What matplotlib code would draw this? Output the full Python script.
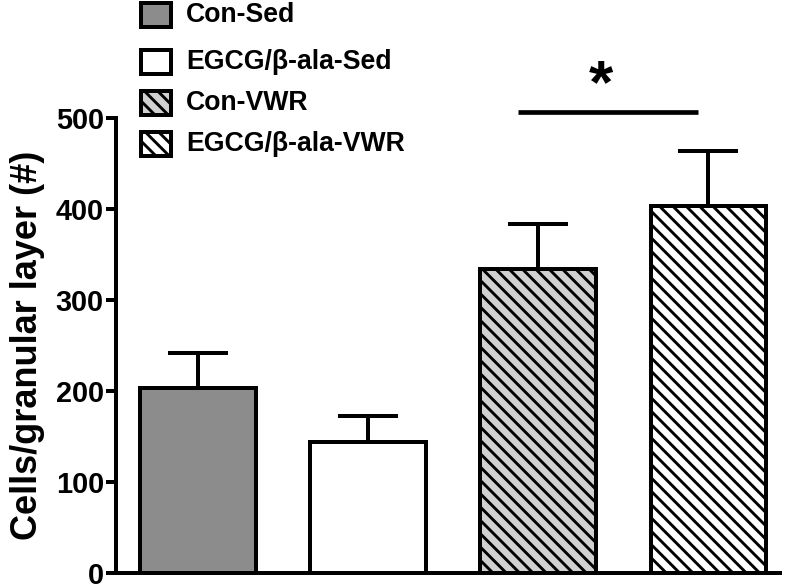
import matplotlib
matplotlib.use("Agg")
import matplotlib.pyplot as plt
from matplotlib.patches import Rectangle

plt.rcParams['font.family'] = ['Liberation Sans', 'DejaVu Sans']
plt.rcParams['font.weight'] = 'bold'

groups = ["Con-Sed", "EGCG/β-ala-Sed", "Con-VWR", "EGCG/β-ala-VWR"]
means = [203, 144, 334, 403]
sems = [39, 28, 50, 61]
colors = ["#8c8c8c", "#ffffff", "#d0d0d0", "#ffffff"]
hatches = ["", "", "\\\\", "\\\\"]
yticks = [0, 100, 200, 300, 400, 500]
ylabel = "Cells/granular layer (#)"
sig_span = (1.88, 2.94)
sig_y = 507
sig_text = "*"

plt.rcParams['hatch.linewidth'] = 2.6
fig = plt.figure(figsize=(10, 7.3375), dpi=80)
ax = fig.add_axes([0.145, 0.0239, 0.83, 0.775])

x = list(range(len(groups)))
ax.errorbar(x, means, yerr=[[0]*4, sems], fmt='none', ecolor='black',
            elinewidth=3.6, capsize=27, capthick=3.6, zorder=1)
ax.bar(x, means, width=0.68, color=colors, edgecolor='black', linewidth=3.6,
       hatch=hatches, zorder=2)

ax.set_xlim(-0.48, 3.42)
ax.set_ylim(0, 500)
ax.set_yticks(yticks)
ax.set_yticklabels([str(t) for t in yticks], fontsize=26, fontweight='bold')
ax.set_xticks([])
ax.set_ylabel(ylabel, fontsize=32.5, fontweight='bold', labelpad=10)
ax.tick_params(axis='y', direction='out', length=9, width=3.6, pad=2)
for s in ['top', 'right']:
    ax.spines[s].set_visible(False)
for s in ['left', 'bottom']:
    ax.spines[s].set_linewidth(3.6)

ax.plot(sig_span, [sig_y, sig_y], color='black', lw=4.2, clip_on=False,
        solid_capstyle='butt')
ax.text(2.37, 534, sig_text, ha='center', va='center',
        fontsize=56, fontweight='bold', clip_on=False)

# manual legend
W, H = 800, 587
rows_y = [15, 62, 103, 144]
for g, c, h, ry in zip(groups, colors, hatches, rows_y):
    bw, bh = 30, 23
    r = Rectangle(((141) / W, (H - ry - bh/2) / H), bw / W, bh / H,
                  transform=fig.transFigure, facecolor=c, edgecolor='black',
                  linewidth=3.6, hatch=h)
    fig.add_artist(r)
    fig.text(186 / W, (H - ry) / H, g, fontsize=24, fontweight='bold',
             va='center', ha='left')

fig.savefig("out.png", dpi=80)
